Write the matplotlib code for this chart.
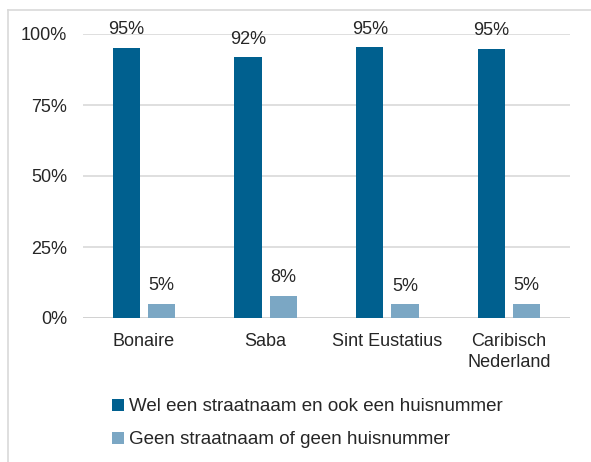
import matplotlib
matplotlib.use("Agg")
import matplotlib.pyplot as plt
import numpy as np
from matplotlib.lines import Line2D

categories = ["Bonaire", "Saba", "Sint Eustatius", "Caribisch\nNederland"]
series_names = ["Wel een straatnaam en ook een huisnummer",
                "Geen straatnaam of geen huisnummer"]
wel = [95.0, 91.8, 95.3, 94.7]
geen = [4.9, 7.9, 4.8, 5.0]
wel_labels = ["95%", "92%", "95%", "95%"]
geen_labels = ["5%", "8%", "5%", "5%"]
yticks = [0, 25, 50, 75, 100]
ytick_labels = ["0%", "25%", "50%", "75%", "100%"]

plt.rcParams['font.family'] = ['Liberation Sans', 'DejaVu Sans']
W, H = 591, 462
fig = plt.figure(figsize=(W/100, H/100), dpi=100)
ax = fig.add_axes([83/W, 1-318/H, (570-83)/W, (318-34)/H])

dark = "#00608F"
light = "#7BA7C4"
txt = "#262626"
fs = 13
x = np.arange(len(categories))
bw = 0.225
off = 0.145
b1 = ax.bar(x - off, wel, bw, color=dark, label=series_names[0], zorder=3)
b2 = ax.bar(x + off, geen, bw, color=light, label=series_names[1], zorder=3)
for bars, labels in ((b1, wel_labels), (b2, geen_labels)):
    for rect, lab in zip(bars, labels):
        ax.annotate(lab, (rect.get_x()+rect.get_width()/2, rect.get_height()),
                    xytext=(0, 7), textcoords="offset points", ha="center", va="bottom",
                    fontsize=fs, color=txt)

ax.set_xlim(-0.5, len(categories)-0.5)
ax.set_ylim(0, 100)
ax.set_yticks(yticks)
ax.set_yticklabels(ytick_labels)
ax.set_xticks(x)
ax.set_xticklabels(categories, linespacing=1.3)
ax.tick_params(axis='both', length=0, labelsize=fs, colors=txt)
ax.tick_params(axis='y', pad=11.5)
ax.tick_params(axis='x', pad=11)
for s in ax.spines.values():
    s.set_visible(False)
ax.yaxis.grid(True, color="#d9d9d9", linewidth=1.2, zorder=0)
ax.set_axisbelow(True)
ax.axhline(0, color="#d0d0d0", linewidth=1.2, zorder=2)

leg = fig.legend(handles=[b1, b2], labels=series_names, loc="upper left",
                 bbox_to_anchor=(103/W, 1-389/H), frameon=False, ncol=1,
                 fontsize=13.5, handlelength=0.62, handleheight=0.62,
                 handletextpad=0.25, labelspacing=0.85, borderpad=0)
for t in leg.get_texts():
    t.set_color(txt)

fig.add_artist(Line2D([8/W, 8/W], [0, 1-10/H], transform=fig.transFigure,
                      color="#d9d9d9", linewidth=1.2))
fig.add_artist(Line2D([8/W, 1], [1-10/H, 1-10/H], transform=fig.transFigure,
                      color="#d9d9d9", linewidth=1.2))

fig.savefig("out.png", dpi=100, facecolor="white")
